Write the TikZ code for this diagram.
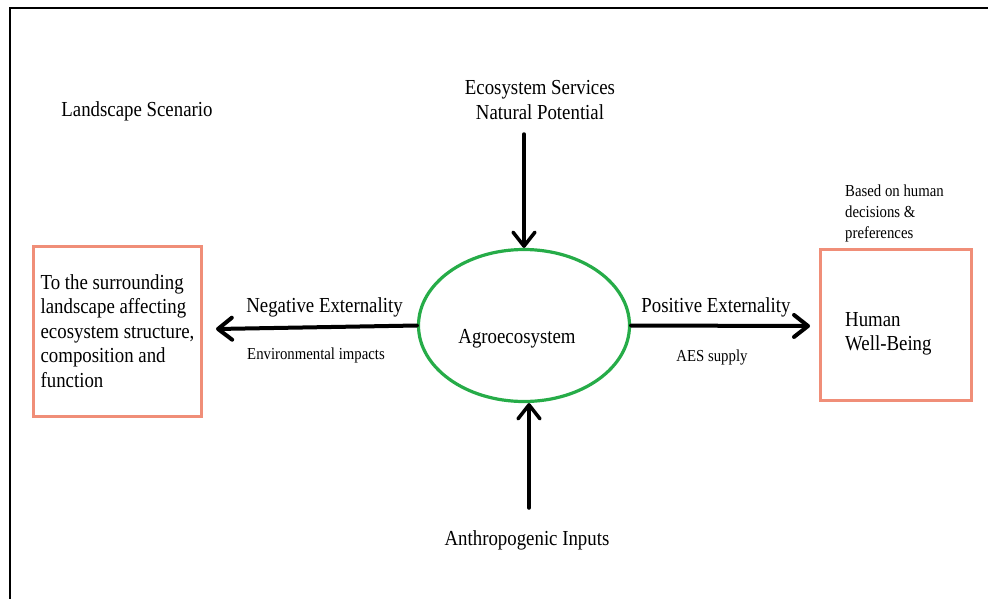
\documentclass[tikz,border=0pt]{standalone}
\usepackage{fontspec}
\setmainfont{Liberation Serif}[FakeStretch=0.88]
\usetikzlibrary{shapes.geometric,arrows.meta}
\definecolor{agreen}{RGB}{38,172,72}
\definecolor{salmon}{RGB}{240,142,120}
\begin{document}
\begin{tikzpicture}[x=1pt,y=-1pt,
  txt/.style={inner sep=0pt, font=\fontsize{21.4}{24.5}\selectfont},
  small/.style={inner sep=0pt, font=\fontsize{16.8}{21}\selectfont},
  framebox/.style={draw=salmon, line width=3pt, inner sep=0pt},
  flow/.style={line width=4pt, line cap=round, -{Straight Barb[length=14pt,width=22pt,round]}},
  vflow/.style={flow, line width=3.5pt},
  ]
\useasboundingbox (0,0) rectangle (988,598);

% outer frame
\draw[line width=2pt] (10,600) -- (10,8) -- (990,8);

% titles
\node[txt] (scen) at (137,111) {Landscape Scenario};
\node[txt, align=center] (ess) at (540,100) {Ecosystem Services\\Natural Potential};
\node[txt] (anth) at (527,540) {Anthropogenic Inputs};

% central agroecosystem
\node[draw=agreen, line width=3.2pt, ellipse, minimum width=211pt, minimum height=152pt, inner sep=0pt] (agro) at (524,325.5) {};
\node[txt] (agtxt) at (517,339) {Agroecosystem};

% left box
\node[framebox, minimum width=168pt, minimum height=170pt, align=left, font=\fontsize{21.4}{24.5}\selectfont] (lbox) at (117.5,331)
  {To the surrounding\\landscape affecting\\ecosystem structure,\\composition and\\function};

% right box
\node[framebox, minimum width=151pt, minimum height=151pt] (rbox) at (896,325) {};
\node[txt, align=left, anchor=west] (hwb) at (845,334) {Human\\Well-Being};
\node[small, align=left, anchor=west] (based) at (845,213) {Based on human\\decisions \&\\preferences};

% connectors
\coordinate (dtop) at (524,134);
\coordinate (ubot) at (529,508);
\coordinate (ltip) at (216,329);
\coordinate (rtip) at (810,326);
\draw[vflow] (dtop) -- (agro.north);
\draw[vflow] (ubot) -- (ubot |- agro.south);
\draw[flow] (agro.west) -- (ltip);
\draw[flow] (agro.east) -- (rtip);

% arrow labels
\node[txt] (neg) at (324.5,307) {Negative Externality};
\node[small] (env) at (316,355) {Environmental impacts};
\node[txt] (pos) at (716,307) {Positive Externality};
\node[small] (aes) at (712,357) {AES supply};
\end{tikzpicture}
\end{document}
